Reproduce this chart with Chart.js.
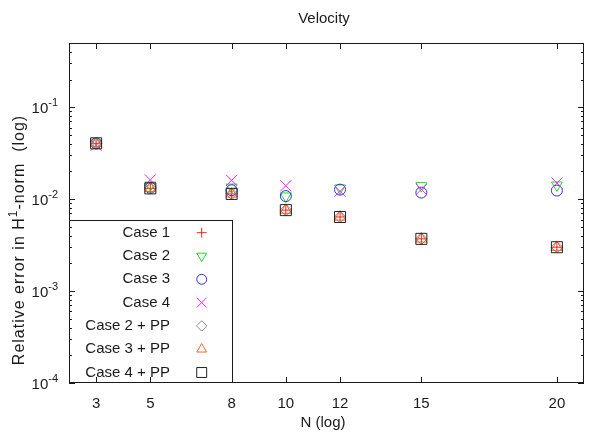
<!DOCTYPE html>
<html><head><meta charset="utf-8">
<script src="https://cdn.jsdelivr.net/npm/chart.js@4"></script>
<style>html,body{margin:0;padding:0;background:#fff}canvas{display:block}</style>
</head><body>
<canvas id="c" width="594" height="433"></canvas>
<script>
// ---- data ----
const N = [3, 5, 8, 10, 12, 15, 20];
const case1   = [0.0405, 0.0131, 0.0114, 0.0076, 0.0064, 0.0037, 0.0030];
const case2   = [0.0405, 0.0142, 0.0135, 0.0108, 0.0132, 0.0140, 0.0142];
const case3   = [0.0405, 0.0133, 0.0125, 0.0108, 0.0127, 0.0118, 0.0124];
const case4   = [0.0385, 0.0162, 0.0160, 0.0140, 0.0122, 0.0128, 0.0150];
const case2PP = [0.0405, 0.0131, 0.0114, 0.0076, 0.0064, 0.0037, 0.0030];
const case3PP = [0.0405, 0.0131, 0.0114, 0.0076, 0.0064, 0.0037, 0.0030];
const case4PP = [0.0405, 0.0131, 0.0114, 0.0076, 0.0064, 0.0037, 0.0030];
const seriesNames = ['Case 1', 'Case 2', 'Case 3', 'Case 4', 'Case 2 + PP', 'Case 3 + PP', 'Case 4 + PP'];
const seriesValues = [case1, case2, case3, case4, case2PP, case3PP, case4PP];
const xTicks = [3, 5, 8, 10, 12, 15, 20];
const yMajor = [1e-4, 1e-3, 1e-2, 1e-1];
const yExp = ['-4', '-3', '-2', '-1'];
const titleText = 'Velocity';
const xTitle = 'N (log)';
const yTitleParts = ['Relative error in H', '1', '-norm  (log)'];

// ---- styles ----
const colors = ['#ee2222', '#22dd22', '#2a2aee', '#ee22ee', '#8c8c8c', '#ee6622', '#222222'];
const pStyles = ['cross', 'triangle', 'circle', 'crossRot', 'rectRot', 'triangle', 'rect'];
const pRadius = [5.5, 6.3, 5.5, 7.8, 5.8, 6.3, 7.8];
const pRot = [0, 180, 0, 0, 0, 0, 0];
const FONT = '"Liberation Sans", Arial, Helvetica, sans-serif';

const datasets = seriesNames.map((name, i) => ({
  label: name,
  data: N.map((n, j) => ({ x: n, y: seriesValues[i][j] })),
  showLine: false,
  borderColor: colors[i],
  backgroundColor: 'rgba(0,0,0,0)',
  pointBackgroundColor: 'rgba(0,0,0,0)',
  pointBorderColor: colors[i],
  pointBorderWidth: 1,
  pointStyle: pStyles[i],
  pointRadius: pRadius[i],
  pointHoverRadius: pRadius[i],
  pointRotation: pRot[i],
  order: 6 - i
}));

const decor = {
  id: 'decor',
  afterDraw(chart) {
    const ctx = chart.ctx, a = chart.chartArea;
    const xs = chart.scales.x, ys = chart.scales.y;
    ctx.save();
    ctx.strokeStyle = '#1a1a1a';
    ctx.fillStyle = '#1a1a1a';
    ctx.lineWidth = 1;
    // frame
    ctx.strokeRect(a.left + 0.5, a.top + 0.5, a.right - a.left - 1, a.bottom - a.top - 1);
    // x ticks
    ctx.beginPath();
    xTicks.forEach(v => {
      const px = Math.round(xs.getPixelForValue(v)) + 0.5;
      ctx.moveTo(px, a.bottom); ctx.lineTo(px, a.bottom - 6);
      ctx.moveTo(px, a.top); ctx.lineTo(px, a.top + 6);
    });
    // y ticks (major + minor)
    for (let e = -4; e <= -1; e++) {
      for (let m = 1; m <= 9; m++) {
        const v = m * Math.pow(10, e);
        if (v > ys.max * 1.0001) continue;
        const py = Math.round(ys.getPixelForValue(v)) + 0.5;
        const len = m === 1 ? 6 : 3;
        ctx.moveTo(a.left, py); ctx.lineTo(a.left + len, py);
        ctx.moveTo(a.right, py); ctx.lineTo(a.right - len, py);
      }
    }
    ctx.stroke();
    // x tick labels
    ctx.font = '15px ' + FONT;
    ctx.textAlign = 'center';
    ctx.textBaseline = 'middle';
    xTicks.forEach(v => ctx.fillText(String(v), xs.getPixelForValue(v), 404));
    // y tick labels 10^e
    yMajor.forEach((v, i) => {
      const py = ys.getPixelForValue(v);
      ctx.font = '15px ' + FONT;
      const w1 = ctx.measureText('10').width;
      ctx.font = '11px ' + FONT;
      const w2 = ctx.measureText(yExp[i]).width;
      const right = 58;
      ctx.textAlign = 'left';
      ctx.font = '15px ' + FONT;
      ctx.fillText('10', right - w1 - w2, py + 2);
      ctx.font = '11px ' + FONT;
      ctx.fillText(yExp[i], right - w2, py - 4);
    });
    // title
    ctx.font = '15px ' + FONT;
    ctx.textAlign = 'center';
    ctx.fillText(titleText, 324, 19);
    ctx.fillText(xTitle, 323, 423);
    // y title rotated with superscript
    ctx.save();
    ctx.translate(20, 240);
    ctx.rotate(-Math.PI / 2);
    ctx.textAlign = 'left';
    ctx.letterSpacing = '1px';
    ctx.font = '16px ' + FONT;
    const wa = ctx.measureText(yTitleParts[0]).width;
    const wc = ctx.measureText(yTitleParts[2]).width;
    ctx.font = '12px ' + FONT;
    const wb = ctx.measureText(yTitleParts[1]).width;
    let x0 = -(wa + wb + wc) / 2;
    ctx.font = '16px ' + FONT;
    ctx.fillText(yTitleParts[0], x0, 0);
    ctx.font = '12px ' + FONT;
    ctx.fillText(yTitleParts[1], x0 + wa, -6);
    ctx.font = '16px ' + FONT;
    ctx.fillText(yTitleParts[2], x0 + wa + wb, 0);
    ctx.restore();
    // legend box
    const lb = { l: 69, t: 220, r: 232, b: 383 };
    ctx.strokeRect(lb.l + 0.5, lb.t + 0.5, lb.r - lb.l, lb.b - lb.t - 1);
    ctx.font = '15px ' + FONT;
    ctx.textAlign = 'right';
    seriesNames.forEach((name, i) => {
      const y = 232.7 + i * 23.3;
      ctx.fillStyle = '#1a1a1a';
      ctx.fillText(name, 170, y);
      ctx.strokeStyle = colors[i];
      ctx.fillStyle = 'rgba(0,0,0,0)';
      ctx.lineWidth = 1;
      Chart.helpers.drawPoint(ctx, { pointStyle: pStyles[i], radius: pRadius[i] * 0.9, rotation: pRot[i], borderWidth: 1 }, 201.7, y);
    });
    ctx.restore();
  }
};

new Chart(document.getElementById('c'), {
  type: 'scatter',
  data: { datasets },
  options: {
    responsive: false,
    animation: false,
    devicePixelRatio: 1,
    layout: { padding: { top: 43, right: 10, left: 0, bottom: 0 } },
    plugins: { legend: { display: false }, tooltip: { enabled: false }, title: { display: false } },
    scales: {
      x: {
        type: 'linear', min: 2, max: 21,
        ticks: { display: false }, grid: { display: false }, border: { display: false },
        afterFit: s => { s.height = 50; }
      },
      y: {
        type: 'logarithmic', min: 1e-4, max: 0.5,
        ticks: { display: false }, grid: { display: false }, border: { display: false },
        afterFit: s => { s.width = 69; }
      }
    }
  },
  plugins: [decor]
});
</script>
</body></html>
